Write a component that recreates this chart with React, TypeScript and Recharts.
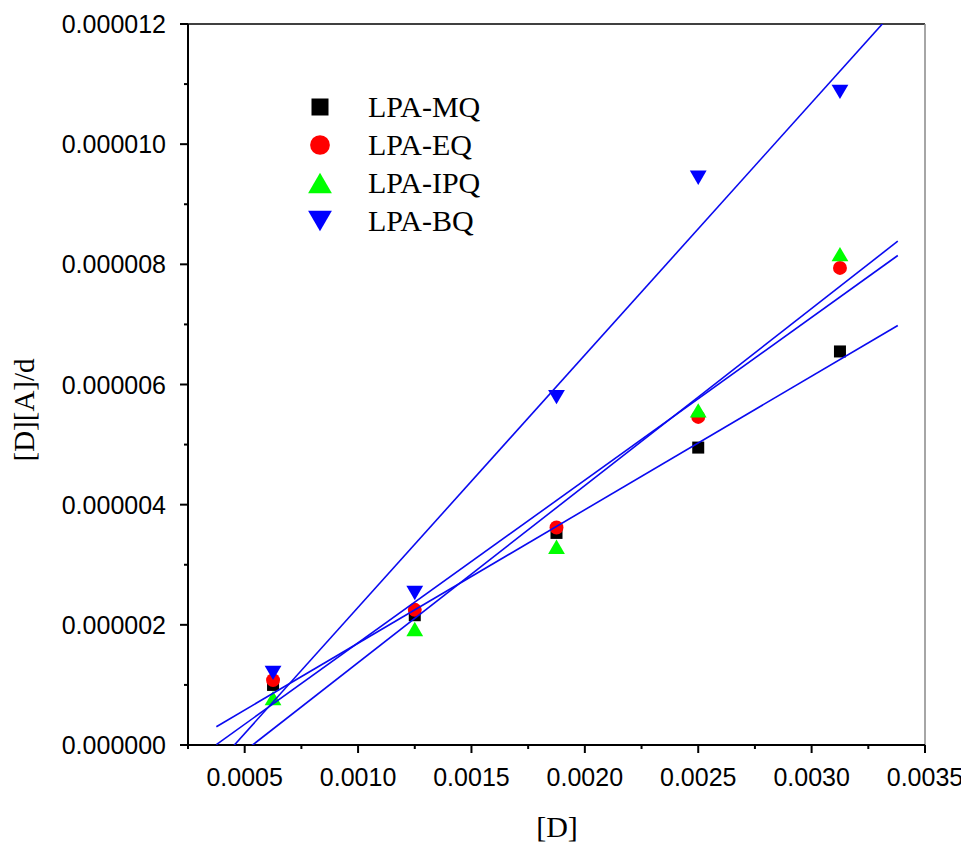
import { ScatterChart, Scatter, XAxis, YAxis, ReferenceLine, Legend, Label } from 'recharts'

// [D] concentrations and [D][A]/d values
const concD = [0.000625, 0.00125, 0.001875, 0.0025, 0.003125]
const mqValues = [1.0e-6, 2.16e-6, 3.53e-6, 4.95e-6, 6.55e-6]
const eqValues = [1.08e-6, 2.25e-6, 3.62e-6, 5.46e-6, 7.94e-6]
const ipqValues = [0.78e-6, 1.93e-6, 3.3e-6, 5.57e-6, 8.17e-6]
const bqValues = [1.2e-6, 2.53e-6, 5.79e-6, 9.44e-6, 10.87e-6]

const seriesNames = ['LPA-MQ', 'LPA-EQ', 'LPA-IPQ', 'LPA-BQ']

// fitted lines span this [D] range
const fitRange = [0.000375, 0.00338]

const xTicks = [
  0.00025, 0.0005, 0.00075, 0.001, 0.00125, 0.0015, 0.00175, 0.002,
  0.00225, 0.0025, 0.00275, 0.003, 0.00325, 0.0035,
]
const yTicks = [0, 1e-6, 2e-6, 3e-6, 4e-6, 5e-6, 6e-6, 7e-6, 8e-6, 9e-6, 10e-6, 11e-6, 12e-6]

const SANS = '"Liberation Sans", Arial, Helvetica, sans-serif'
const SERIF = '"Liberation Serif", "Times New Roman", serif'

const points = (ys: number[]) => concD.map((x, i) => ({ x, y: ys[i] }))

// least squares fit, evaluated at the ends of fitRange
function fitLine(ys: number[]) {
  const n = concD.length
  const mx = concD.reduce((a, b) => a + b, 0) / n
  const my = ys.reduce((a, b) => a + b, 0) / n
  let sxy = 0
  let sxx = 0
  concD.forEach((x, i) => {
    sxy += (x - mx) * (ys[i] - my)
    sxx += (x - mx) * (x - mx)
  })
  const slope = sxy / sxx
  const icpt = my - slope * mx
  return fitRange.map((x) => ({ x, y: icpt + slope * x }))
}

type Marker = 'square' | 'circle' | 'up' | 'down'

function markerEl(kind: Marker, cx: number, cy: number, s: number, color: string) {
  if (kind === 'square') return <rect x={cx - s / 2} y={cy - s / 2} width={s} height={s} fill={color} />
  if (kind === 'circle') return <circle cx={cx} cy={cy} r={s * 0.58} fill={color} />
  const w = s * 1.4
  const h = s * 1.2
  if (kind === 'up')
    return <polygon points={`${cx - w / 2},${cy + h / 2} ${cx + w / 2},${cy + h / 2} ${cx},${cy - h / 2}`} fill={color} />
  return <polygon points={`${cx - w / 2},${cy - h / 2} ${cx + w / 2},${cy - h / 2} ${cx},${cy + h / 2}`} fill={color} />
}

const series = [
  { name: seriesNames[0], values: mqValues, color: '#000000', marker: 'square' as Marker },
  { name: seriesNames[1], values: eqValues, color: '#ff0000', marker: 'circle' as Marker },
  { name: seriesNames[2], values: ipqValues, color: '#00ff00', marker: 'up' as Marker },
  { name: seriesNames[3], values: bqValues, color: '#0000ff', marker: 'down' as Marker },
]

function XTick(props: any) {
  const { x, y, payload } = props
  const axisY = y - 23
  const major = Math.round(payload.value / 0.00025) % 2 === 0
  return (
    <g>
      <line x1={x} x2={x} y1={axisY} y2={axisY + (major ? 8 : 4)} stroke="#000" strokeWidth={2} />
      {major && (
        <text x={x} y={axisY + 23} dy="0.72em" textAnchor="middle" fontFamily={SANS} fontSize={25} fill="#000">
          {payload.value.toFixed(4)}
        </text>
      )}
    </g>
  )
}

function YTick(props: any) {
  const { x, y, payload } = props
  const axisX = x + 22
  const major = Math.round(payload.value / 1e-6) % 2 === 0
  return (
    <g>
      <line x1={axisX} x2={axisX - (major ? 8 : 4)} y1={y} y2={y} stroke="#000" strokeWidth={2} />
      {major && (
        <text x={x} y={y} dy="0.36em" textAnchor="end" fontFamily={SANS} fontSize={25} fill="#000">
          {payload.value.toFixed(6)}
        </text>
      )}
    </g>
  )
}

function LegendBox() {
  return (
    <div style={{ fontFamily: SERIF, fontSize: 30, color: '#000' }}>
      {series.map((s) => (
        <div key={s.name} style={{ display: 'flex', alignItems: 'center', height: 38 }}>
          <svg width={26} height={26}>
            {markerEl(s.marker, 13, 13, 17, s.color)}
          </svg>
          <span style={{ marginLeft: 35, lineHeight: '38px' }}>{s.name}</span>
        </div>
      ))}
    </div>
  )
}

export default function App() {
  return (
    <div style={{ width: 961, height: 840 }}>
      <ScatterChart width={961} height={840} margin={{ top: 16, right: 44, bottom: 0, left: 0 }}>
        <XAxis
          type="number"
          dataKey="x"
          domain={[0.00025, 0.0035]}
          allowDataOverflow
          ticks={xTicks}
          interval={0}
          height={103}
          tickSize={8}
          tickMargin={15}
          tickLine={false}
          axisLine={{ stroke: '#000', strokeWidth: 2 }}
          tick={<XTick />}
          label={
            <Label
              content={() => (
                <text x={549} y={829} textAnchor="middle" fontFamily={SERIF} fontSize={30} fill="#000">
                  [D]
                </text>
              )}
            />
          }
        />
        <YAxis
          type="number"
          dataKey="y"
          domain={[0, 12e-6]}
          allowDataOverflow
          ticks={yTicks}
          interval={0}
          width={180}
          tickSize={8}
          tickMargin={14}
          tickLine={false}
          axisLine={{ stroke: '#000', strokeWidth: 2 }}
          tick={<YTick />}
          label={
            <Label
              content={() => (
                <text
                  x={26}
                  y={402}
                  textAnchor="middle"
                  fontFamily={SERIF}
                  fontSize={29}
                  fill="#000"
                  transform="rotate(-90, 26, 402)"
                >
                  [D][A]/d
                </text>
              )}
            />
          }
        />
        <ReferenceLine y={12e-6} stroke="#000" strokeWidth={1.5} />
        <ReferenceLine x={0.0035} stroke="#888" strokeWidth={1.5} />
        {series.map((s) => (
          <Scatter
            key={s.name}
            name={s.name}
            data={points(s.values)}
            isAnimationActive={false}
            shape={(p: any) => markerEl(s.marker, p.cx, p.cy, 12, s.color)}
          />
        ))}
        {series.map((s) => (
          <Scatter
            key={s.name + '-fit'}
            name={s.name + ' fit'}
            data={fitLine(s.values)}
            legendType="none"
            isAnimationActive={false}
            line={{ stroke: '#0a0af0', strokeWidth: 1.6 }}
            shape={() => <g />}
          />
        ))}
        <Legend
          layout="horizontal"
          verticalAlign="middle"
          align="center"
          content={<LegendBox />}
          wrapperStyle={{ position: 'absolute', left: 299, top: 80, width: 'auto', height: 'auto' }}
        />
      </ScatterChart>
    </div>
  )
}
